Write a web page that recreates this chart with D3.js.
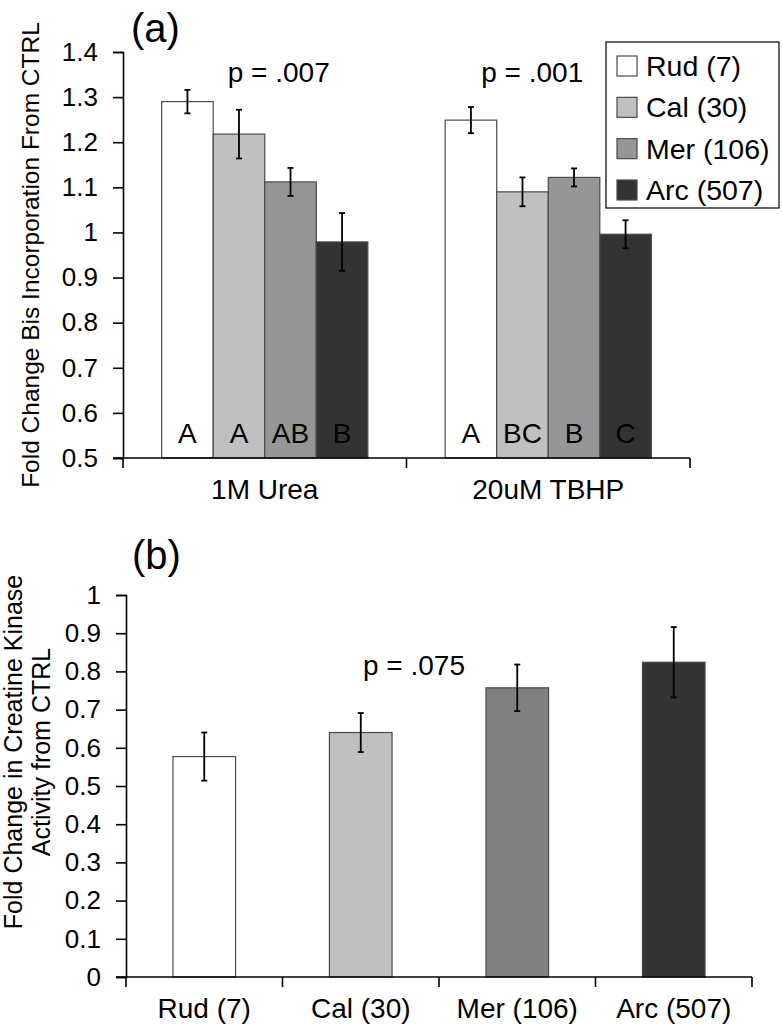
<!DOCTYPE html>
<html>
<head>
<meta charset="utf-8">
<script src="https://cdn.jsdelivr.net/npm/d3@7"></script>
<style>
    body { margin: 0; background: #fff; }
    svg { display: block; font-family: "Liberation Sans", Arial, sans-serif; }
</style>
</head>
<body>
<div id="main-diagram"></div>
<script>
// data
const groups = ["1M Urea", "20uM TBHP"]
const strains = ["Rud (7)", "Cal (30)", "Mer (106)", "Arc (507)"]
const ureaValues = [1.29, 1.218, 1.112, 0.979]
const ureaErrors = [0.026, 0.054, 0.031, 0.064]
const tbhpValues = [1.249, 1.09, 1.122, 0.996]
const tbhpErrors = [0.029, 0.032, 0.02, 0.031]
const ureaLetters = ["A", "A", "AB", "B"]
const tbhpLetters = ["A", "BC", "B", "C"]
const pValuesA = ["p = .007", "p = .001"]
const ckValues = [0.577, 0.64, 0.757, 0.824]
const ckErrors = [0.063, 0.051, 0.061, 0.092]
const pValueB = "p = .075"
const ticksA = [0.5, 0.6, 0.7, 0.8, 0.9, 1, 1.1, 1.2, 1.3, 1.4]
const ticksB = [0, 0.1, 0.2, 0.3, 0.4, 0.5, 0.6, 0.7, 0.8, 0.9, 1]

const fillsA = ["#ffffff", "#c0c0c0", "#969696", "#333333"]
const fillsB = ["#ffffff", "#c0c0c0", "#808080", "#333333"]

const width = 783
const height = 1026

const svg = d3.select("#main-diagram")
    .append("svg")
    .attr("width", width)
    .attr("height", height)

const fmt = d => String(+d.toFixed(1))

function drawYAxis(g, y, ticks, x0) {
    const axis = g.append("g")
        .attr("transform", `translate(${x0},0)`)
        .call(d3.axisLeft(y).tickValues(ticks).tickFormat(fmt).tickSize(10).tickPadding(15))
    axis.select(".domain").attr("stroke", "#000").attr("stroke-width", 1.6)
    axis.selectAll(".tick line").attr("stroke", "#000").attr("stroke-width", 1.6)
    axis.selectAll(".tick text").attr("font-size", 26).attr("fill", "#000")
        .attr("font-family", "Liberation Sans, Arial, sans-serif")
}

function drawXAxis(g, x, y0, labelY) {
    // line plus ticks at the category boundaries, label in the middle of each category
    const r = x.range()
    g.append("line")
        .attr("x1", r[0] - 10).attr("x2", r[1])
        .attr("y1", y0).attr("y2", y0)
        .attr("stroke", "#000").attr("stroke-width", 1.6)
    const bounds = x.domain().map(d => x(d)).concat([r[1]])
    g.selectAll(".xtick")
        .data(bounds)
        .enter()
        .append("line")
        .attr("x1", d => d).attr("x2", d => d)
        .attr("y1", y0).attr("y2", y0 + 10)
        .attr("stroke", "#000").attr("stroke-width", 1.6)
    g.selectAll(".xlabel")
        .data(x.domain())
        .enter()
        .append("text")
        .attr("x", d => x(d) + x.bandwidth() / 2)
        .attr("y", labelY)
        .attr("text-anchor", "middle")
        .attr("font-size", 28)
        .text(d => d)
}

function errorBar(g, cx, yTop, yBot) {
    g.append("line").attr("x1", cx).attr("x2", cx).attr("y1", yTop).attr("y2", yBot)
        .attr("stroke", "#000").attr("stroke-width", 1.8)
    g.append("line").attr("x1", cx - 3).attr("x2", cx + 3).attr("y1", yTop).attr("y2", yTop)
        .attr("stroke", "#000").attr("stroke-width", 1.8)
    g.append("line").attr("x1", cx - 3).attr("x2", cx + 3).attr("y1", yBot).attr("y2", yBot)
        .attr("stroke", "#000").attr("stroke-width", 1.8)
}

// ---------- panel (a) ----------
const gA = svg.append("g")

const yA = d3.scaleLinear().domain([0.5, 1.4]).range([458, 52])
const x0A = d3.scaleBand().domain(groups).range([123, 690])
const x1A = d3.scaleBand().domain(strains).range([0, x0A.bandwidth()]).paddingOuter(0.75)

const dataA = [
    { group: groups[0], values: ureaValues, errors: ureaErrors, letters: ureaLetters },
    { group: groups[1], values: tbhpValues, errors: tbhpErrors, letters: tbhpLetters }
]

dataA.forEach(function (grp) {
    const g = gA.append("g").attr("transform", `translate(${x0A(grp.group)},0)`)
    g.selectAll("rect")
        .data(strains)
        .enter()
        .append("rect")
        .attr("x", d => x1A(d))
        .attr("y", (d, i) => yA(grp.values[i]))
        .attr("width", x1A.bandwidth())
        .attr("height", (d, i) => yA(0.5) - yA(grp.values[i]))
        .attr("fill", (d, i) => fillsA[i])
        .attr("stroke", "#4a4a4a")
        .attr("stroke-width", 1.2)
    strains.forEach(function (s, i) {
        const cx = x1A(s) + x1A.bandwidth() / 2
        errorBar(g, cx, yA(grp.values[i] + grp.errors[i]), yA(grp.values[i] - grp.errors[i]))
    })
    g.selectAll(".letter")
        .data(grp.letters)
        .enter()
        .append("text")
        .attr("x", (d, i) => x1A(strains[i]) + x1A.bandwidth() / 2)
        .attr("y", 443)
        .attr("text-anchor", "middle")
        .attr("font-size", 28)
        .attr("fill", "#000")
        .text(d => d)
})

drawYAxis(gA, yA, ticksA, 123)
drawXAxis(gA, x0A, 458, 499)

gA.selectAll(".pval")
    .data(pValuesA)
    .enter()
    .append("text")
    .attr("x", (d, i) => x0A(groups[i]) + x0A.bandwidth() / 2 + (i === 0 ? 14 : -16))
    .attr("y", 82)
    .attr("text-anchor", "middle")
    .attr("font-size", 28)
    .text(d => d)

gA.append("text")
    .attr("x", 131).attr("y", 42)
    .attr("font-size", 40)
    .text("(a)")

gA.append("text")
    .attr("transform", "translate(39,255) rotate(-90)")
    .attr("text-anchor", "middle")
    .attr("font-size", 24.5)
    .text("Fold Change Bis Incorporation From CTRL")

// legend
const legend = gA.append("g")
legend.append("rect")
    .attr("x", 606).attr("y", 42)
    .attr("width", 173).attr("height", 166)
    .attr("fill", "#fff").attr("stroke", "#000").attr("stroke-width", 1.2)
const rowY = d3.scalePoint().domain(strains).range([56, 180])
strains.forEach(function (s, i) {
    legend.append("rect")
        .attr("x", 617).attr("y", rowY(s))
        .attr("width", 20).attr("height", 20)
        .attr("fill", fillsA[i]).attr("stroke", "#4a4a4a").attr("stroke-width", 1.2)
    legend.append("text")
        .attr("x", 646).attr("y", rowY(s) + 20)
        .attr("font-size", 28.5)
        .text(s)
})

// ---------- panel (b) ----------
const gB = svg.append("g")

const yB = d3.scaleLinear().domain([0, 1]).range([977, 595])
const xB = d3.scaleBand().domain(strains).range([126, 752])
const barB = d3.scaleBand().domain(strains).range([126, 752]).paddingInner(0.6).paddingOuter(0.3)

gB.selectAll("rect")
    .data(strains)
    .enter()
    .append("rect")
    .attr("x", d => barB(d))
    .attr("y", (d, i) => yB(ckValues[i]))
    .attr("width", barB.bandwidth())
    .attr("height", (d, i) => yB(0) - yB(ckValues[i]))
    .attr("fill", (d, i) => fillsB[i])
    .attr("stroke", "#4a4a4a")
    .attr("stroke-width", 1.2)

strains.forEach(function (s, i) {
    const cx = barB(s) + barB.bandwidth() / 2
    errorBar(gB, cx, yB(ckValues[i] + ckErrors[i]), yB(ckValues[i] - ckErrors[i]))
})

drawYAxis(gB, yB, ticksB, 126)
drawXAxis(gB, xB, 977, 1018)

gB.append("text")
    .attr("x", 414).attr("y", 675)
    .attr("text-anchor", "middle")
    .attr("font-size", 28)
    .text(pValueB)

gB.append("text")
    .attr("x", 132).attr("y", 569)
    .attr("font-size", 40)
    .text("(b)")

gB.append("text")
    .attr("transform", "translate(22,752) rotate(-90)")
    .attr("text-anchor", "middle")
    .attr("font-size", 25)
    .text("Fold Change in Creatine Kinase")
gB.append("text")
    .attr("transform", "translate(50,752) rotate(-90)")
    .attr("text-anchor", "middle")
    .attr("font-size", 25)
    .text("Activity from CTRL")
</script>
</body>
</html>
